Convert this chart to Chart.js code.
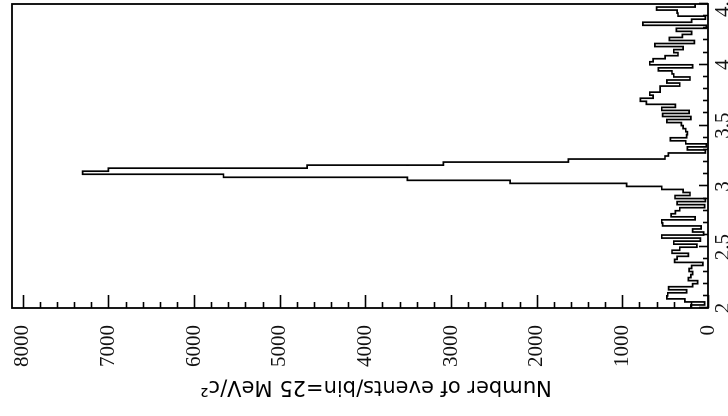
<!DOCTYPE html>
<html>
<head>
<meta charset="utf-8">
<script src="https://cdn.jsdelivr.net/npm/chart.js@4/dist/chart.umd.min.js"></script>
<style>
  html, body { margin: 0; padding: 0; background: #fff; overflow: hidden; width: 728px; height: 416px; }
  /* The histogram is laid out upright (mass along x, counts along y) and the whole
     panel is turned a quarter turn counter-clockwise. */
  #panel { position: absolute; left: 0; top: 0; width: 416px; height: 728px;
           transform-origin: 0 0; transform: translate(0, 416px) rotate(-90deg); }
  canvas { display: block; }
</style>
</head>
<body>
<div id="panel"><canvas id="hist" width="416" height="728"></canvas></div>
<script>
// Invariant-mass histogram, 25 MeV/c^2 bins from 2.0 to 4.5 GeV/c^2
const massRange = [2.0, 4.5];
const binWidth = 0.025;
const counts = [
  200, 40, 270, 480, 470, 250, 460, 180, 120, 230,
  200, 180, 220, 190, 60, 390, 360, 230, 420, 330,
  130, 400, 90, 540, 50, 180, 80, 530, 540, 150,
  430, 380, 330, 40, 360, 30, 385, 210, 290, 540,
  949, 2310, 3510, 5656, 7300, 7000, 4680, 3090, 1630, 502,
  463, 30, 240, 20, 260, 440, 250, 240, 260, 290,
  310, 480, 200, 530, 220, 540, 380, 720, 790, 640,
  680, 560, 560, 330, 480, 210, 400, 420, 580, 180,
  680, 640, 500, 350, 400, 290, 620, 160, 450, 300,
  190, 370, 20, 760, 190, 30, 350, 360, 600, 150
];
const countTicks = [0, 1000, 2000, 3000, 4000, 5000, 6000, 7000, 8000];
const massTicks = [2, 2.5, 3, 3.5, 4, 4.5];
const countMax = 8125;
const yTitle = 'Number of events/bin=25 MeV/c\u00B2';

// left bin edges plus the closing edge, for a step outline
const points = counts.map((c, i) => ({ x: massRange[0] + i * binWidth, y: c }));
points.push({ x: massRange[1], y: counts[counts.length - 1] });

const tickFont = { family: '"Liberation Serif", "Times New Roman", serif', size: 21 };

const framePlugin = {
  id: 'frameAndTicks',
  afterDraw(chart) {
    const { ctx, chartArea: a, scales: { x, y } } = chart;
    ctx.save();
    ctx.strokeStyle = '#000';
    // inward ticks on the count axis: minor every 200, major every 1000
    ctx.lineWidth = 1.6;
    for (let v = 0; v <= countMax; v += 200) {
      const py = Math.round(y.getPixelForValue(v)) + 0.5;
      const len = v % 1000 === 0 ? 13 : 6;
      ctx.beginPath(); ctx.moveTo(a.left, py); ctx.lineTo(a.left + len, py); ctx.stroke();
    }
    // inward ticks on the mass axis: minor every 0.1, major every 0.5
    for (let k = 0; k <= 25; k++) {
      const m = massRange[0] + k * 0.1;
      const px = Math.round(x.getPixelForValue(m)) + 0.5;
      const len = k % 5 === 0 ? 9 : 5;
      ctx.beginPath(); ctx.moveTo(px, a.bottom); ctx.lineTo(px, a.bottom - len); ctx.stroke();
    }
    // frame
    ctx.lineWidth = 1.8;
    ctx.strokeRect(a.left, a.top, a.right - a.left, a.bottom - a.top);
    // count-axis title
    ctx.fillStyle = '#000';
    ctx.font = '21px "DejaVu Sans", sans-serif';
    ctx.textAlign = 'center';
    ctx.textBaseline = 'middle';
    ctx.translate(30, 376);
    ctx.rotate(-Math.PI / 2);
    ctx.fillText(yTitle, 0, 0);
    ctx.restore();
  }
};

new Chart(document.getElementById('hist'), {
  type: 'line',
  data: {
    datasets: [{
      data: points,
      stepped: 'before',
      borderColor: '#000',
      borderWidth: 1.7,
      pointRadius: 0,
      fill: false,
      tension: 0
    }]
  },
  options: {
    responsive: false,
    devicePixelRatio: 1,
    animation: false,
    events: [],
    layout: { padding: { left: 0, right: 4, top: 12, bottom: 0 } },
    plugins: { legend: { display: false }, tooltip: { enabled: false } },
    scales: {
      x: {
        type: 'linear',
        min: massRange[0],
        max: massRange[1],
        grid: { display: false, drawTicks: false },
        border: { display: false },
        afterBuildTicks: s => { s.ticks = massTicks.map(v => ({ value: v })); },
        afterFit: s => { s.height = 20; s.paddingLeft = 0; s.paddingRight = 0; },
        ticks: { color: '#111', font: tickFont, padding: 3, maxRotation: 0, autoSkip: false,
                 callback: v => String(v) }
      },
      y: {
        type: 'linear',
        min: 0,
        max: countMax,
        grid: { display: false, drawTicks: false },
        border: { display: false },
        afterBuildTicks: s => { s.ticks = countTicks.map(v => ({ value: v })); },
        afterFit: s => { s.width = 108; s.paddingTop = 0; s.paddingBottom = 0; },
        ticks: { color: '#111', font: tickFont, padding: 17, callback: v => String(v) }
      }
    }
  },
  plugins: [framePlugin]
});
</script>
</body>
</html>
